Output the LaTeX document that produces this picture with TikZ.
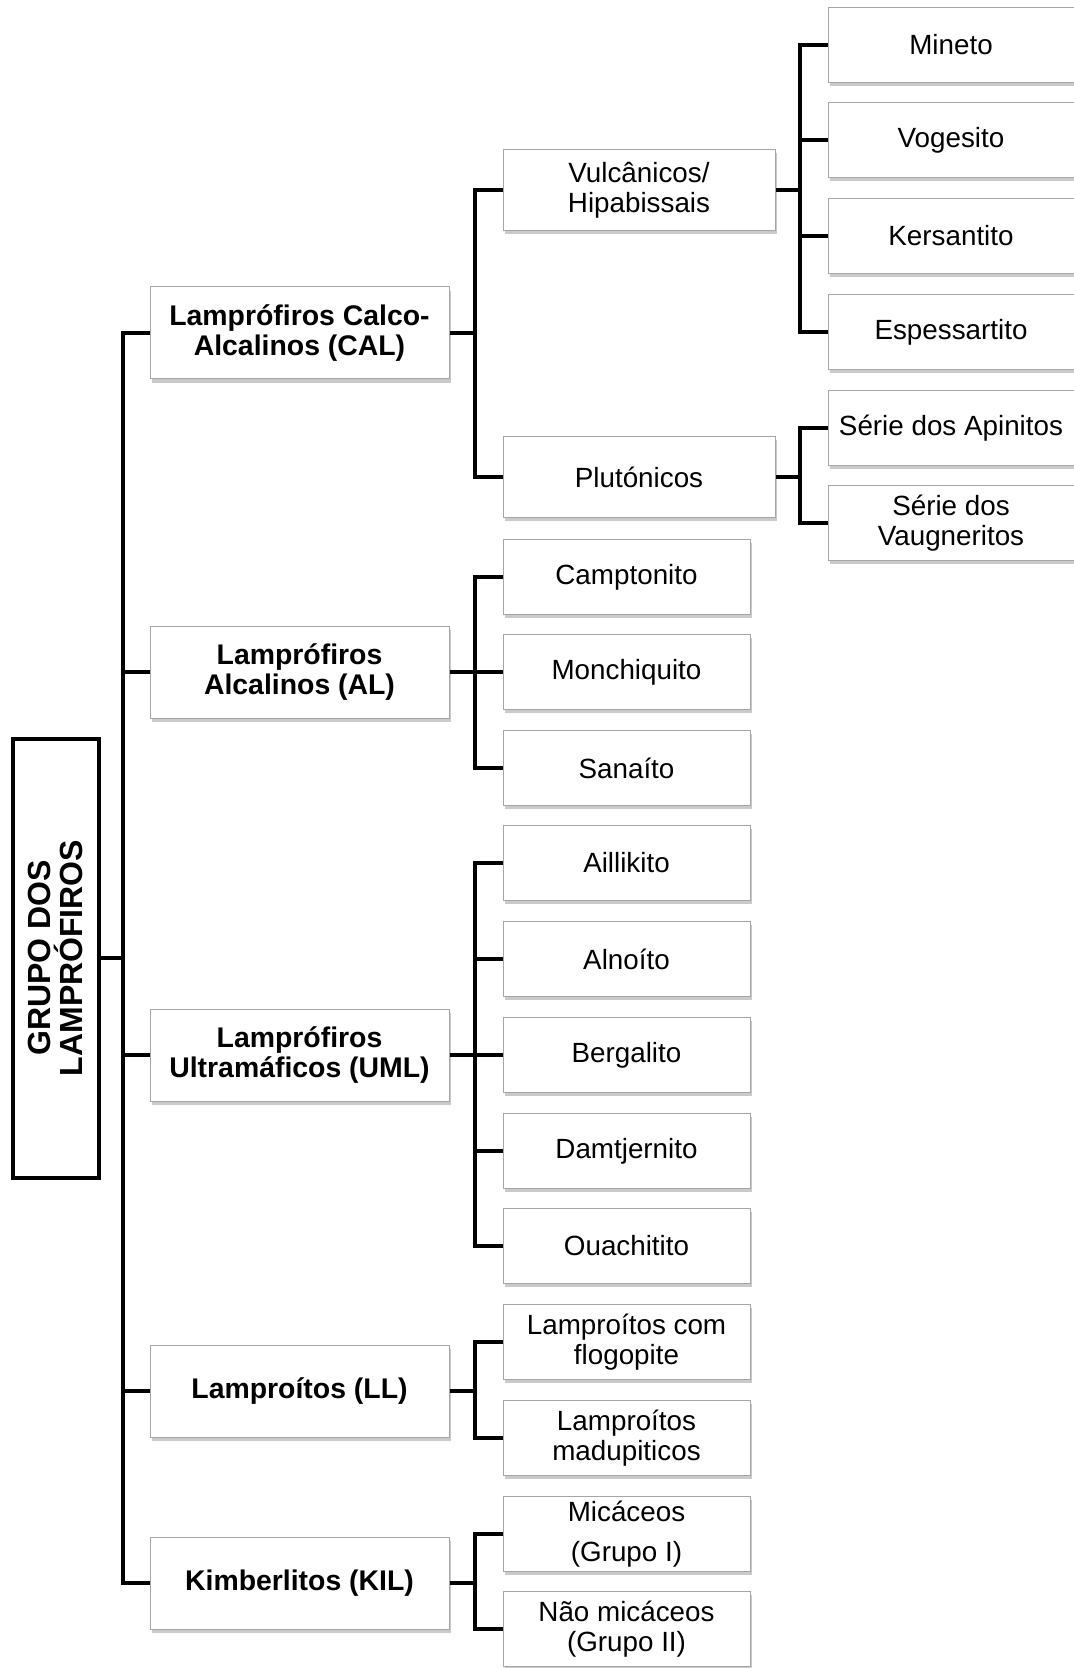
\documentclass[tikz,border=0pt]{standalone}
\usepackage{fontspec}
\setmainfont{Liberation Sans}
\usetikzlibrary{shadows}
\tikzset{
  caixa/.style={draw=gray!70, line width=0.5pt, fill=white, align=center, inner sep=1pt,
    drop shadow={shadow xshift=1pt, shadow yshift=-1.8pt, opacity=0.35, fill=black!60},
    font=\fontsize{13.9}{15}\selectfont},
  grupo/.style={caixa, minimum width=149.5pt, minimum height=46pt,
    font=\fontsize{14.2}{15}\selectfont\bfseries},
  ramo/.style={caixa, minimum width=136pt, minimum height=40.5pt},
  folha/.style={caixa, minimum width=123.5pt, minimum height=37.2pt},
  rocha/.style={caixa, minimum width=123pt, minimum height=37.2pt},
  raiz/.style={draw, line width=2pt, fill=white, rotate=90, align=center,
    minimum width=219.5pt, minimum height=43pt, inner sep=1pt,
    font=\fontsize{16}{16}\selectfont\bfseries},
  liga/.style={line width=2.3pt}
}
\begin{document}
\begin{tikzpicture}[x=0.5pt,y=-0.5pt]
  \useasboundingbox (0,0) rectangle (1074,1668);
  \pgfmathsetmacro{\xgrupo}{299.5}
  \pgfmathsetmacro{\xramo}{639}
  \pgfmathsetmacro{\xfolha}{626.5}
  \pgfmathsetmacro{\xrocha}{951}
  \coordinate (tronco) at (123,0);
  \coordinate (col2) at (475,0);
  \coordinate (col3) at (800,0);
  % raiz
  \node[raiz] (root) at (55.5,958) {GRUPO DOS\\LAMPRÓFIROS};
  % grupos
  \node[grupo] (CAL) at (\xgrupo,333) {Lamprófiros Calco-\\Alcalinos (CAL)};
  \node[grupo] (AL) at (\xgrupo,672) {Lamprófiros\\Alcalinos (AL)};
  \node[grupo] (UML) at (\xgrupo,1055) {Lamprófiros\\Ultramáficos (UML)};
  \node[grupo] (LL) at (\xgrupo,1391) {Lamproítos (LL)};
  \node[grupo] (KIL) at (\xgrupo,1583) {Kimberlitos (KIL)};
  % ramos dos CAL
  \node[ramo] (vul) at (\xramo,190) {Vulcânicos/\\Hipabissais};
  \node[ramo] (plu) at (\xramo,477) {Plutónicos};
  % folhas
  \foreach \nome/\y/\texto in {camp/577/Camptonito, monc/672/Monchiquito,
      sana/768/Sanaíto, aill/863/Aillikito, alno/959/Alnoíto,
      berg/1055/Bergalito, damt/1151/Damtjernito, ouac/1246/Ouachitito,
      lflo/1342/{Lamproítos com\\flogopite}, lmad/1438/{Lamproítos\\madupiticos},
      mica/1534/{Micáceos\\[5pt](Grupo I)}, nmic/1629/{Não micáceos\\(Grupo II)}}
    \node[folha] (\nome) at (\xfolha,\y) {\texto};
  % rochas
  \foreach \nome/\y/\texto in {mine/45/Mineto, voge/140/Vogesito,
      kers/236/Kersantito, espe/332/Espessartito,
      apin/428/Série dos Apinitos, vaug/523/{Série dos\\Vaugneritos}}
    \node[rocha] (\nome) at (\xrocha,\y) {\texto};
  % ligacoes
  \draw[liga] (root.south) -- (root.south -| tronco);
  \draw[liga] (CAL.west) -- (CAL.west -| tronco) -- (KIL.west -| tronco) -- (KIL.west);
  \foreach \n in {AL,UML,LL} \draw[liga] (\n.west) -- (\n.west -| tronco);
  \foreach \pai/\prim/\ult/\col in {CAL/vul/plu/col2, AL/camp/sana/col2,
      UML/aill/ouac/col2, LL/lflo/lmad/col2, KIL/mica/nmic/col2,
      vul/mine/espe/col3, plu/apin/vaug/col3} {
    \draw[liga] (\prim.west) -- (\prim.west -| \col) -- (\ult.west -| \col) -- (\ult.west);
    \draw[liga] (\pai.east) -- (\pai.east -| \col);
  }
  \foreach \n/\col in {monc/col2, alno/col2, berg/col2, damt/col2, voge/col3, kers/col3}
    \draw[liga] (\n.west) -- (\n.west -| \col);
\end{tikzpicture}
\end{document}
